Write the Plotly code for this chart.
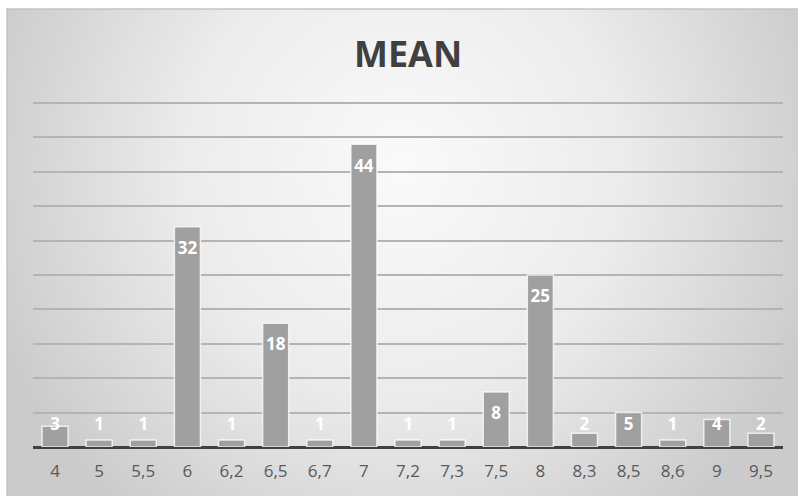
import plotly.graph_objects as go

# Distribution of mean scores
categories = ["4", "5", "5,5", "6", "6,2", "6,5", "6,7", "7", "7,2", "7,3",
              "7,5", "8", "8,3", "8,5", "8,6", "9", "9,5"]
counts = [3, 1, 1, 32, 1, 18, 1, 44, 1, 1, 8, 25, 2, 5, 1, 4, 2]
title_text = "MEAN"

W, H = 798, 496
M_L, M_T = 7, 9
plot_left, plot_right = 33, 783      # inner plot area, px
plot_top, plot_bottom = 103, 447     # pixel rows of the 50 and 0 gridlines
y_top_grid = 50
y_range_top = 51                     # a little headroom so the top gridline is drawn

area_w = W - M_L
area_h = H - M_T
px_per_unit = (plot_bottom - plot_top) / y_top_grid
domain_top_px = plot_bottom - y_range_top * px_per_unit

fig = go.Figure()

# Soft radial background filling the whole chart area
fig.add_trace(go.Scatter(
    x=[-0.05, 1.05, 1.05, -0.05, -0.05], y=[-0.25, -0.25, 1.6, 1.6, -0.25],
    mode="lines", line=dict(width=0), fill="toself",
    fillgradient=dict(type="radial",
                      colorscale=[[0, "#fafafa"], [0.5, "#ececec"], [1, "#cbcbcb"]]),
    hoverinfo="skip", showlegend=False, xaxis="x", yaxis="y",
))

fig.add_trace(go.Bar(
    x=categories, y=counts,
    marker=dict(color="#a0a0a0", line=dict(color="rgba(255,255,255,0.75)", width=1.5)),
    xaxis="x2", yaxis="y2", showlegend=False, hoverinfo="skip",
))

# Value labels: just inside the bar end, kept above the baseline for short bars
label_y = [max(v - 23 / px_per_unit, 21 / px_per_unit) for v in counts]
fig.add_trace(go.Scatter(
    x=categories, y=label_y, mode="text", text=[str(v) for v in counts],
    textposition="middle center",
    textfont=dict(family="Open Sans", size=17, color="white", weight="bold"),
    xaxis="x2", yaxis="y2", showlegend=False, hoverinfo="skip",
))

fig.update_layout(
    width=W, height=H,
    margin=dict(l=M_L, r=0, t=M_T, b=0, pad=0),
    paper_bgcolor="white",
    plot_bgcolor="rgba(0,0,0,0)",
    bargap=0.41,
    xaxis=dict(domain=[0, 1], range=[0, 1], visible=False, fixedrange=True),
    yaxis=dict(domain=[0, 1], range=[0, 1], visible=False, fixedrange=True),
    xaxis2=dict(
        domain=[(plot_left - M_L) / area_w, (plot_right - M_L) / area_w],
        anchor="y2", range=[-0.5, len(categories) - 0.5],
        showgrid=False, showline=False, zeroline=False,
        ticks="outside", ticklen=9, tickcolor="rgba(0,0,0,0)",
        tickfont=dict(family="Open Sans", size=17, color="#595959"),
    ),
    yaxis2=dict(
        domain=[(H - plot_bottom) / area_h, (H - domain_top_px) / area_h],
        anchor="x2", range=[0, y_range_top], tick0=0, dtick=5,
        showgrid=True, gridcolor="#b4b4b4", gridwidth=1.5,
        zeroline=True, zerolinecolor="#404040", zerolinewidth=3,
        showticklabels=False, showline=False,
    ),
    shapes=[dict(type="rect", xref="paper", yref="paper", x0=0, x1=1.01, y0=-0.01, y1=1,
                 line=dict(color="#c4c4c4", width=1.5), layer="above")],
    annotations=[dict(
        text=title_text, xref="paper", yref="paper",
        x=(408 - M_L) / area_w, y=(H - 53) / area_h,
        xanchor="center", yanchor="middle", showarrow=False,
        font=dict(family="Open Sans", size=36, color="#404040", weight="bold"),
    )],
)

fig.write_html("out.html")
